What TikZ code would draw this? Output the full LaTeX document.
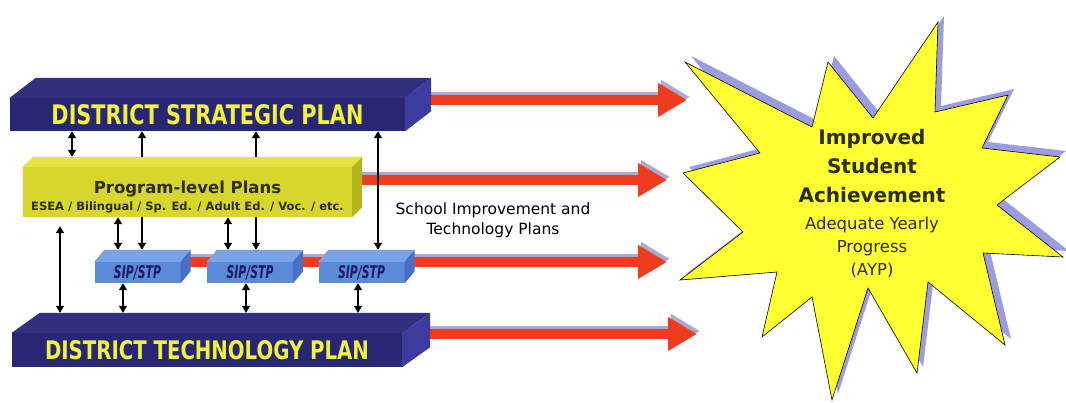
\documentclass[tikz,border=0pt]{standalone}
\usepackage{fontspec}
\setmainfont{DejaVu Sans}
\usepackage{graphicx}
\usetikzlibrary{arrows.meta, backgrounds}

\definecolor{barfront}{HTML}{272775}
\definecolor{bartop}{HTML}{30307F}
\definecolor{barside}{HTML}{3B3BA0}
\definecolor{bartext}{HTML}{F2F23C}
\definecolor{planfront}{HTML}{D6D62C}
\definecolor{plantop}{HTML}{E6E640}
\definecolor{planside}{HTML}{B4B41E}
\definecolor{plantext}{HTML}{2D2D1E}
\definecolor{sipfront}{HTML}{5A8AD8}
\definecolor{siptop}{HTML}{7AA2E6}
\definecolor{sipside}{HTML}{4670C4}
\definecolor{siptext}{HTML}{1B1B5E}
\definecolor{arrowred}{HTML}{F03C1E}
\definecolor{arrowshade}{HTML}{B0A8CC}
\definecolor{staryellow}{HTML}{FFFF33}
\definecolor{starshade}{HTML}{9C9CE0}

% top and side faces of a box: node, depth x, depth y, top colour, side colour
\newcommand{\slab}[5]{%
  \fill[#4] (#1.north west) -- ++(#2,-#3) -- ([shift={(#2,-#3)}]#1.north east) -- (#1.north east) -- cycle;
  \fill[#5] (#1.north east) -- ++(#2,-#3) -- ([shift={(#2,-#3)}]#1.south east) -- (#1.south east) -- cycle;
  \coordinate (#1top) at ([shift={(#2,-#3)}]#1.north);
}

% the burst round the goal
\newcommand{\burst}[1]{%
  \filldraw[#1] (685,62) -- (812,127) -- (828,62) -- (873,118) -- (938,22) -- (935,112)
    -- (1008,95) -- (982,148) -- (1060,157) -- (997,205) -- (1063,257) -- (983,253)
    -- (1005,345) -- (928,282) -- (917,373) -- (868,288) -- (832,400) -- (812,297)
    -- (762,337) -- (777,272) -- (680,280) -- (743,232) -- (683,173) -- (760,153) -- cycle;
}
\newcommand{\smallline}{\fontsize{16.5}{23}\selectfont\mdseries}

\begin{document}
\begin{tikzpicture}[x=1pt, y=-1pt,
    bar/.style={fill=barfront, inner sep=0pt, text=bartext},
    plan/.style={fill=planfront, inner sep=0pt},
    sip/.style={fill=sipfront, inner sep=0pt, text=siptext,
      minimum width=86pt, minimum height=21pt},
    link/.style={line width=1.4pt, -{Triangle[length=7pt,width=8pt]}},
    both/.style={link, {Triangle[length=7pt,width=8pt]}-{Triangle[length=7pt,width=8pt]}},
    fat/.style={line width=10pt, draw=arrowred, -{Triangle[length=29pt,width=32pt]}},
    fatshade/.style={fat, draw=arrowshade}]

  \useasboundingbox (0,0) rectangle (1066,402);

  % plans
  \node[bar, minimum width=395pt, minimum height=33pt] (dsp) at (207.5,114.5)
    {\resizebox{312pt}{20pt}{\bfseries DISTRICT STRATEGIC PLAN}};
  \slab{dsp}{26}{20}{bartop}{barside}

  \node[plan, minimum width=329pt, minimum height=50pt] (prog) at (187.5,192) {};
  \slab{prog}{10}{10}{plantop}{planside}
  \node[align=center, text=plantext, inner sep=0pt] (progname) at ([yshift=-5pt]prog.center)
    {\fontsize{16.5}{21}\selectfont\bfseries Program-level Plans\\[4pt]
     \fontsize{11.5}{14}\selectfont\bfseries ESEA / Bilingual / Sp. Ed. / Adult Ed. / Voc. / etc.};

  \node[sip] (sip1) at (137.5,272.5) {\resizebox{47pt}{13pt}{\bfseries\itshape SIP/STP}};
  \node[sip] (sip2) at (250,272.5) {\resizebox{47pt}{13pt}{\bfseries\itshape SIP/STP}};
  \node[sip] (sip3) at (361.5,272.5) {\resizebox{47pt}{13pt}{\bfseries\itshape SIP/STP}};
  \slab{sip1}{10}{12}{siptop}{sipside}
  \slab{sip2}{10}{12}{siptop}{sipside}
  \slab{sip3}{10}{12}{siptop}{sipside}

  \node[bar, minimum width=390pt, minimum height=34pt] (dtp) at (207,350)
    {\resizebox{324pt}{19pt}{\bfseries DISTRICT TECHNOLOGY PLAN}};
  \slab{dtp}{28}{20}{bartop}{barside}

  \node[align=center, font=\fontsize{15.5}{20}\selectfont] (sitp) at (493,220)
    {School Improvement and\\Technology Plans};

  % links between the plans
  \draw[both] (dsp.south -| 72,0) -- (progtop -| 72,0);
  \draw[link] (progtop -| 142,0) -- (dsp.south -| 142,0);
  \draw[link] (progtop -| 256,0) -- (dsp.south -| 256,0);
  \draw[both] (dsp.south -| 378,0) -- (sip3top -| 378,0);
  \draw[both, shorten <=9pt] (prog.south -| 60,0) -- (dtptop -| 60,0);
  \draw[both] (prog.south -| 118,0) -- (sip1top -| 118,0);
  \draw[link] (prog.south -| 142,0) -- (sip1top -| 142,0);
  \draw[both] (prog.south -| 228,0) -- (sip2top -| 228,0);
  \draw[link] (prog.south -| 256,0) -- (sip2top -| 256,0);
  \draw[both] (sip1.south -| 123,0) -- (dtptop -| 123,0);
  \draw[both] (sip2.south -| 246,0) -- (dtptop -| 246,0);
  \draw[both] (sip3.south -| 358,0) -- (dtptop -| 358,0);

  % goal
  \burst{starshade, draw=none, xshift=6pt, yshift=6pt}
  \burst{fill=staryellow, draw=black, line width=0.6pt}
  \node[align=center, text=plantext, font=\fontsize{20}{29}\selectfont\bfseries] (goal) at (872,203)
    {Improved\\Student\\Achievement\\[-2pt]
     \smallline Adequate Yearly\\[-6pt]\smallline Progress\\[-6pt]\smallline (AYP)};

  % red arrows towards the goal
  \coordinate (g1) at (687,100);
  \coordinate (g2) at (667,180);
  \coordinate (g3) at (667,262);
  \coordinate (g4) at (697,334);
  \begin{scope}[on background layer]
    \fill[white] (0,0) rectangle (1066,402);
    \begin{scope}[transform canvas={xshift=3pt, yshift=3pt}]
      \foreach \b/\g in {dsp/g1, prog/g2, sip1/g3, dtp/g4}
        \draw[fatshade] (\b.center |- \g) -- (\g);
    \end{scope}
    \foreach \b/\g in {dsp/g1, prog/g2, sip1/g3, dtp/g4}
      \draw[fat] (\b.center |- \g) -- (\g);
  \end{scope}
\end{tikzpicture}
\end{document}
